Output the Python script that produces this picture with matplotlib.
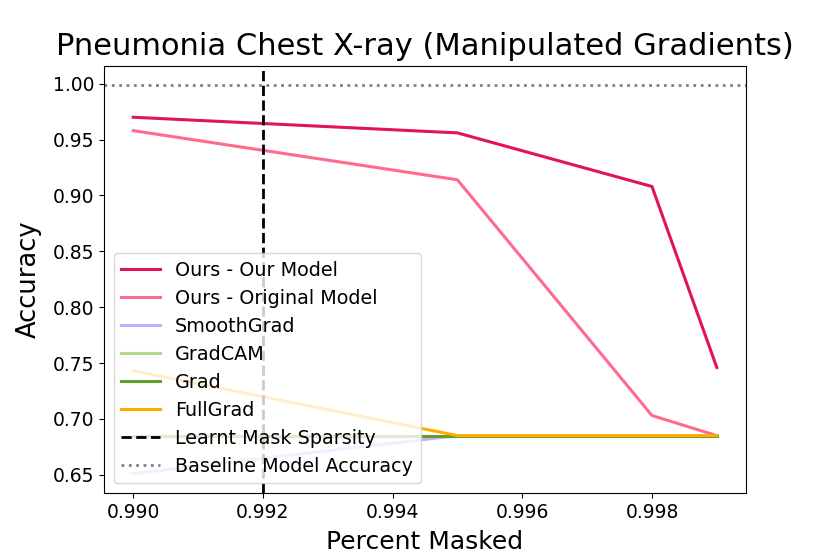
import matplotlib
matplotlib.use("Agg")
import matplotlib.pyplot as plt

x = [0.990, 0.995, 0.998, 0.999]
ours_our = [0.970, 0.956, 0.908, 0.746]
ours_orig = [0.958, 0.914, 0.703, 0.685]
smoothgrad = [0.651, 0.685, 0.685, 0.685]
gradcam = [0.685, 0.685, 0.685, 0.685]
grad = [0.685, 0.685, 0.685, 0.685]
fullgrad = [0.743, 0.685, 0.685, 0.685]
mask_sparsity = 0.992
baseline_acc = 0.9985

fig = plt.figure(figsize=(8.3, 5.54), dpi=100)
ax = fig.add_axes([104/830, 1-493/554, (746-104)/830, (493-66)/554])

ax.plot(x, ours_our, color='#e0135c', lw=2.2, label='Ours - Our Model')
ax.plot(x, ours_orig, color='#ff6b8f', lw=2.2, label='Ours - Original Model')
ax.plot(x, smoothgrad, color='#c3b0fc', lw=2.2, label='SmoothGrad')
ax.plot(x, gradcam, color='#b3d98c', lw=2.2, label='GradCAM')
ax.plot(x, grad, color='#5f9e2f', lw=2.2, label='Grad')
ax.plot(x, fullgrad, color='#ffae00', lw=2.2, label='FullGrad')
ax.axvline(mask_sparsity, color='black', ls='--', lw=2, label='Learnt Mask Sparsity')
ax.axhline(baseline_acc, color='grey', ls=':', lw=2, label='Baseline Model Accuracy')

ax.set_xticks([0.990, 0.992, 0.994, 0.996, 0.998])
ax.set_xticklabels(['0.990', '0.992', '0.994', '0.996', '0.998'])
ax.set_yticks([0.65, 0.70, 0.75, 0.80, 0.85, 0.90, 0.95, 1.00])
ax.set_yticklabels(['0.65', '0.70', '0.75', '0.80', '0.85', '0.90', '0.95', '1.00'])
ax.tick_params(labelsize=13.5)
ax.set_xlabel('Percent Masked', fontsize=18, labelpad=6)
ax.set_ylabel('Accuracy', fontsize=18.5, labelpad=8)
ax.set_title('Pneumonia Chest X-ray (Manipulated Gradients)', fontsize=22, pad=8)
ax.legend(loc='lower left', fontsize=13.8, labelspacing=0.47, borderaxespad=0.5)

fig.savefig('out.png', dpi=100)
